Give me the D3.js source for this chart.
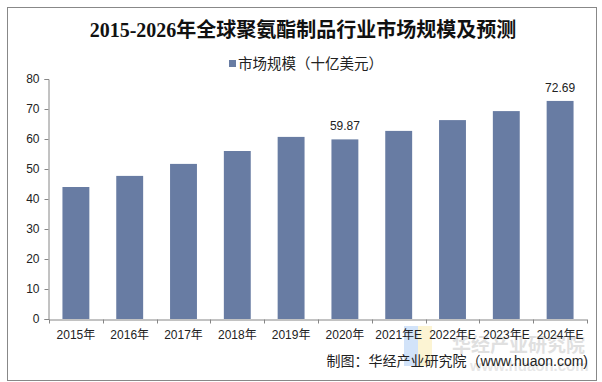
<!DOCTYPE html>
<html><head><meta charset="utf-8">
<script src="https://cdn.jsdelivr.net/npm/d3@7/dist/d3.min.js"></script>
<style>body{margin:0;background:#fff;}svg{display:block;}</style>
</head><body>
<script>
const categories = ["2015年","2016年","2017年","2018年","2019年","2020年","2021年E","2022年E","2023年E","2024年E"];
const values = [44.0, 47.7, 51.7, 56.0, 60.7, 59.87, 62.7, 66.3, 69.3, 72.69];
const labelShown = [false,false,false,false,false,true,false,false,false,true];
const yTicks = [0,10,20,30,40,50,60,70,80];
const titleText = "2015-2026年全球聚氨酯制品行业市场规模及预测";
const legendText = "市场规模（十亿美元）";
const sourceText = "制图：华经产业研究院（www.huaon.com)";
const watermarkText = "华经产业研究院";
const watermarkUrl = "www.huaon.com";

const W = 602, H = 382;
const barColor = "#687ca3", axisColor = "#868686";
const svg = d3.select("body").append("svg").attr("width", W).attr("height", H);

svg.append("rect").attr("x", 7.5).attr("y", 7.5).attr("width", 589).attr("height", 373)
  .attr("fill", "#fff").attr("stroke", "#888").attr("stroke-width", 1);

const x = d3.scaleBand().domain(categories).range([49, 587]).paddingInner(0.5).paddingOuter(0.25);
const y = d3.scaleLinear().domain([0, 80]).range([319, 79]);

// watermark
const wm = svg.append("g").attr("opacity", 0.45);
wm.append("rect").attr("x", 404).attr("y", 326).attr("width", 14).attr("height", 40).attr("fill", "#9cc3f2");
wm.append("rect").attr("x", 418).attr("y", 326).attr("width", 14).attr("height", 40).attr("fill", "#f9e7a0");
wm.append("text").attr("x", 452).attr("y", 352).attr("font-family", "Noto Sans CJK SC").attr("font-weight", "bold")
  .attr("font-size", 19).attr("fill", "#bbb").text(watermarkText);
wm.append("text").attr("x", 470).attr("y", 371).attr("font-family", "Liberation Sans").attr("font-weight", "bold")
  .attr("font-size", 15).attr("fill", "#ccc").text(watermarkUrl);

// bars
svg.append("g").selectAll("rect").data(values).join("rect")
  .attr("x", (d, i) => x(categories[i]))
  .attr("y", d => y(d))
  .attr("width", x.bandwidth())
  .attr("height", d => y(0) - y(d))
  .attr("fill", barColor);

// y axis
const yAxis = svg.append("g").attr("transform", "translate(48.5,0)")
  .call(d3.axisLeft(y).tickValues(yTicks).tickSize(4).tickPadding(5));
// x axis
const xAxis = svg.append("g").attr("transform", "translate(0,319.5)")
  .call(d3.axisBottom(x).tickSize(0).tickPadding(11));
const step = x.step();
const bounds = d3.range(categories.length + 1).map(i => 49 + i * step);
xAxis.selectAll(".bt").data(bounds).join("line").attr("class", "bt")
  .attr("x1", d => Math.round(d) + 0.5).attr("x2", d => Math.round(d) + 0.5)
  .attr("y1", 0).attr("y2", 4).attr("stroke", axisColor);
xAxis.select(".domain").attr("d", "M49,0.5H" + bounds[bounds.length - 1]);

[yAxis, xAxis].forEach(a => {
  a.selectAll(".domain").attr("stroke", axisColor);
  a.selectAll(".tick line").attr("stroke", axisColor);
  a.selectAll("text").attr("font-family", "Liberation Sans, Noto Sans CJK SC").attr("font-size", 12).attr("fill", "#222");
});

// data labels
svg.append("g").selectAll("text").data(values.map((v, i) => ({v, i})).filter(d => labelShown[d.i])).join("text")
  .attr("x", d => x(categories[d.i]) + x.bandwidth() / 2)
  .attr("y", d => y(d.v) - 9)
  .attr("text-anchor", "middle").attr("font-family", "Liberation Sans").attr("font-size", 12).attr("fill", "#222")
  .text(d => d.v.toFixed(2));

// title
svg.append("text").attr("x", 303).attr("y", 37).attr("text-anchor", "middle")
  .attr("font-family", "Liberation Serif, Noto Sans CJK SC").attr("font-weight", "bold").attr("font-size", 20)
  .attr("fill", "#111").text(titleText);

// legend
const lg = svg.append("g");
lg.append("rect").attr("x", 229).attr("y", 60).attr("width", 7).attr("height", 7).attr("fill", barColor);
lg.append("text").attr("x", 238).attr("y", 69).attr("font-family", "Noto Sans CJK SC").attr("font-size", 14.5)
  .attr("fill", "#222").text(legendText);

// source
svg.append("text").attr("x", 588).attr("y", 366).attr("text-anchor", "end")
  .attr("font-family", "Liberation Sans, Noto Sans CJK SC").attr("font-size", 14).attr("fill", "#222").text(sourceText);
</script>
</body></html>
